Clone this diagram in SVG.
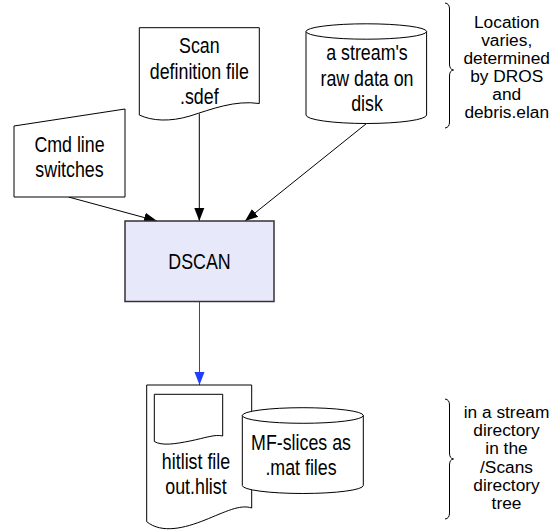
<svg xmlns="http://www.w3.org/2000/svg" width="553" height="531" viewBox="0 0 553 531">
<defs>
<style>
.shape{fill:#ffffff;stroke:#000000;stroke-width:1;}
.proc{fill:#e8e8fb;stroke:#333333;stroke-width:1.5;}
.lbl{font-family:"Liberation Sans",Arial,sans-serif;font-size:22px;fill:#000;text-anchor:middle;}
.note{font-family:"Liberation Sans",Arial,sans-serif;font-size:15.6px;fill:#000;text-anchor:middle;}
.conn{fill:none;stroke:#000;stroke-width:1;}
.blue{fill:none;stroke:#1f3cff;stroke-width:1;}
.brace{fill:none;stroke:#000;stroke-width:1;}
</style>
<marker id="ah" markerUnits="userSpaceOnUse" markerWidth="14" markerHeight="12" viewBox="0 0 14 12" refX="13" refY="6" orient="auto">
<path d="M0,1 L13,6 L0,11 Z" fill="#000"/>
</marker>
<marker id="ahb" markerUnits="userSpaceOnUse" markerWidth="14" markerHeight="12" viewBox="0 0 14 12" refX="13" refY="6" orient="auto">
<path d="M0,1 L13,6 L0,11 Z" fill="#1f3cff"/>
</marker>
</defs>

<g id="connectors">
<line class="conn" x1="68.5" y1="197" x2="157" y2="221" marker-end="url(#ah)"/>
<line class="conn" x1="199.3" y1="113.5" x2="199.3" y2="221" marker-end="url(#ah)"/>
<line class="conn" x1="366.5" y1="123.5" x2="245" y2="221" marker-end="url(#ah)"/>
<line class="blue" x1="199.5" y1="301.5" x2="199.5" y2="385" marker-end="url(#ahb)"/>
</g>

<g id="cmd">
<polygon class="shape" points="14,126 125,109 125,197 14,197"/>
<g transform="translate(69.5,0) scale(0.81,1)">
<text class="lbl" x="0" y="151.7">Cmd line</text>
<text class="lbl" x="0" y="176.7">switches</text>
</g>
</g>

<g id="sdef">
<path class="shape" d="M139.3,27.7 L259.3,27.7 L259.3,103.5 C235,100 212,109 190,116 C170,122 152,121 139.3,115 Z"/>
<g transform="translate(199.3,0) scale(0.81,1)">
<text class="lbl" x="0" y="53.3">Scan</text>
<text class="lbl" x="0" y="79.3">definition file</text>
<text class="lbl" x="0" y="104">.sdef</text>
</g>
</g>

<g id="rawdata">
<path class="shape" d="M306,31.5 L306,115 A60.3,8.5 0 0 0 426.6,115 L426.6,31.5 Z"/>
<ellipse class="shape" cx="366.3" cy="31.5" rx="60.3" ry="7.7"/>
<g transform="translate(367,0) scale(0.81,1)">
<text class="lbl" x="0" y="60">a stream's</text>
<text class="lbl" x="0" y="86">raw data on</text>
<text class="lbl" x="0" y="111">disk</text>
</g>
</g>

<g id="note-top">
<path class="brace" d="M445,3 Q449.5,3.5 449.5,9 L449.5,64 Q449.5,69.5 453.5,70 Q449.5,70.5 449.5,76 L449.5,122 Q449.5,127.5 445,128"/>
<g transform="translate(506.7,0) scale(1.11,1)">
<text class="note" x="0" y="28.3">Location</text>
<text class="note" x="0" y="46.3">varies,</text>
<text class="note" x="0" y="64.3">determined</text>
<text class="note" x="0" y="82.3">by DROS</text>
<text class="note" x="0" y="100.3">and</text>
<text class="note" x="0" y="118.3">debris.elan</text>
</g>
</g>

<g id="dscan">
<rect class="proc" x="125" y="221" width="149" height="80.5"/>
<g transform="translate(199.5,0) scale(0.81,1)">
<text class="lbl" x="0" y="269">DSCAN</text>
</g>
</g>

<g id="hitlist">
<path class="shape" d="M146.7,385 L251.7,385 L251.7,508 C240,504 225,512 205,520 C185,528 162,534 146.7,521.7 Z"/>
<path class="shape" d="M154.3,394.3 L222.7,394.3 L222.7,436 C215,434 205,438 190,441 C175,444 162,446 154.3,441.5 Z"/>
<g transform="translate(196,0) scale(0.81,1)">
<text class="lbl" x="0" y="469">hitlist file</text>
<text class="lbl" x="0" y="494.5">out.hlist</text>
</g>
</g>

<g id="mfslices">
<path class="shape" d="M242.3,415.5 L242.3,485.5 A60.5,8 0 0 0 363.3,485.5 L363.3,415.5 Z"/>
<ellipse class="shape" cx="302.8" cy="415.5" rx="60.5" ry="7.8"/>
<g transform="translate(301,0) scale(0.81,1)">
<text class="lbl" x="0" y="450">MF-slices as</text>
<text class="lbl" x="0" y="475">.mat files</text>
</g>
</g>

<g id="note-bottom">
<path class="brace" d="M445,399 Q449.5,399.5 449.5,405 L449.5,453 Q449.5,458.5 453.5,459 Q449.5,459.5 449.5,465 L449.5,513 Q449.5,518.5 445,519"/>
<g transform="translate(506.5,0) scale(1.11,1)">
<text class="note" x="0" y="418">in a stream</text>
<text class="note" x="0" y="436.2">directory</text>
<text class="note" x="0" y="454.4">in the</text>
<text class="note" x="0" y="472.6">/Scans</text>
<text class="note" x="0" y="490.8">directory</text>
<text class="note" x="0" y="509">tree</text>
</g>
</g>
</svg>
